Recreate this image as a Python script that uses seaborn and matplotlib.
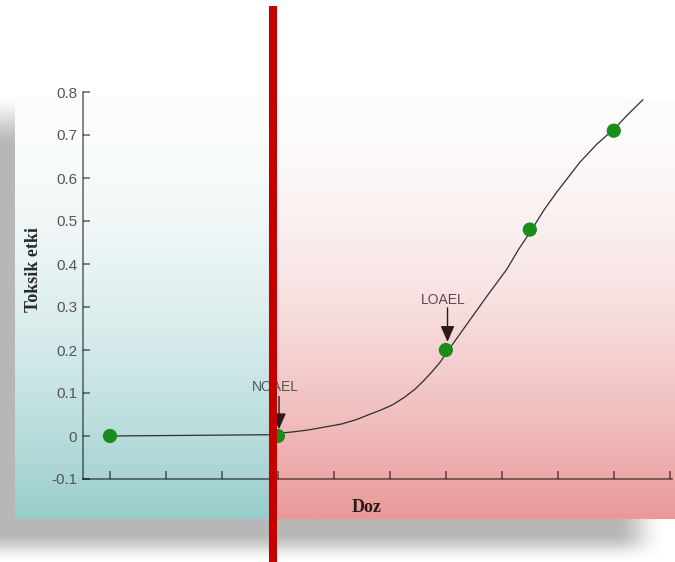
import numpy as np
import pandas as pd
import seaborn as sns
from matplotlib import pyplot as plt

sns.set_theme(style="white")
plt.rcParams["font.family"] = ["Liberation Sans", "DejaVu Sans"]

# measured doses (x) and toxic effect (y)
dose_points = [0, 3, 6, 7.5, 9]
effect_points = [0.0, 0.0, 0.2, 0.48, 0.71]

# dose-response curve
curve_dose = [0, 2.9, 3.07, 3.3, 3.54, 3.8, 4.14, 4.4, 4.61, 4.85, 5.04, 5.25,
              5.45, 5.6, 5.75, 5.9, 6.02, 6.25, 6.48, 6.75, 7.09, 7.3, 7.54,
              7.75, 7.98, 8.2, 8.39, 8.7, 9.02, 9.27, 9.52]
curve_effect = [0.0, 0.003, 0.007, 0.010, 0.014, 0.020, 0.028, 0.038, 0.049,
                0.061, 0.072, 0.089, 0.109, 0.128, 0.149, 0.172, 0.195, 0.237,
                0.279, 0.328, 0.388, 0.434, 0.481, 0.525, 0.567, 0.604, 0.636,
                0.679, 0.716, 0.750, 0.782]

y_ticks = [-0.1, 0, 0.1, 0.2, 0.3, 0.4, 0.5, 0.6, 0.7, 0.8]
y_tick_labels = ["-0.1", "0", "0.1", "0.2", "0.3", "0.4", "0.5", "0.6", "0.7", "0.8"]
x_ticks = list(range(11))

W, H = 675, 562
fig = plt.figure(figsize=(W / 100, H / 100), dpi=100, facecolor="white")


def vertical_gradient(top, bottom, height, power=1.7):
    t = np.linspace(0, 1, height) ** power
    top, bottom = np.array(top) / 255, np.array(bottom) / 255
    col = top[None, :] + (bottom - top)[None, :] * t[:, None]
    return col[:, None, :]


def smooth(v):
    v = np.clip(v, 0, 1)
    return v * v * (3 - 2 * v)


# background: shadow + two gradient panels
bg = fig.add_axes([0, 0, 1, 1], zorder=0)
bg.axis("off")

xx, yy = np.meshgrid(np.arange(W), np.arange(H))
alpha = smooth((665 - xx) / 50) * smooth((yy - 92) / 55) * smooth((562 - yy) / 30)
shadow = np.zeros((H, W, 4))
shadow[..., :3] = 0.72
shadow[..., 3] = alpha
bg.imshow(shadow, extent=(0, W, H, 0), aspect="auto", interpolation="bilinear")

bg.imshow(vertical_gradient((252, 253, 253), (152, 205, 204), 200),
          extent=(15, 273, 519, 100), aspect="auto", interpolation="bilinear")
bg.imshow(vertical_gradient((253, 252, 252), (234, 152, 152), 200),
          extent=(273, W, 519, 100), aspect="auto", interpolation="bilinear")
bg.set_xlim(0, W)
bg.set_ylim(H, 0)

# main chart
ax = fig.add_axes([83 / W, (H - 479) / H, (672 - 83) / W, (479 - 92) / H], zorder=1)
ax.set_facecolor("none")

curve = pd.DataFrame({"dose": curve_dose, "effect": curve_effect})
points = pd.DataFrame({"dose": dose_points, "effect": effect_points})

sns.lineplot(data=curve, x="dose", y="effect", ax=ax, sort=False, estimator=None,
             color="#2e2e2e", linewidth=0.9, zorder=2)
sns.scatterplot(data=points, x="dose", y="effect", ax=ax, color="#198c19",
                s=105, edgecolor="none", zorder=3)

ax.set_xlim(-0.482, 10.04)
ax.set_ylim(-0.1, 0.8)
ax.set_xticks(x_ticks)
ax.set_xticklabels([])
ax.set_yticks(y_ticks)
ax.set_yticklabels(y_tick_labels)
ax.set_xlabel("")
ax.set_ylabel("")

for side in ["top", "right"]:
    ax.spines[side].set_visible(False)
for side in ["left", "bottom"]:
    ax.spines[side].set_color((0, 0, 0, 0.6))
    ax.spines[side].set_linewidth(1.1)

ax.tick_params(axis="x", direction="in", length=6, width=1.1, color=(0, 0, 0, 0.6), bottom=True)
ax.tick_params(axis="y", direction="in", length=5, width=1.1, color=(0, 0, 0, 0.6),
               left=True, labelsize=11, labelcolor="#555555", pad=4.3)

# NOAEL / LOAEL annotations
arrow = dict(arrowstyle="-|>,head_length=0.8,head_width=0.35", color="#2a1a1a",
             lw=1.0, shrinkA=0, shrinkB=0, mutation_scale=12)
ax.text(dose_points[1] - 0.05, 0.105, "NOAEL", ha="center", va="baseline",
        fontsize=10, color="#505858")
ax.annotate("", xy=(dose_points[1] + 0.02, 0.016), xytext=(dose_points[1] + 0.02, 0.092),
            arrowprops=arrow, zorder=4)
ax.text(dose_points[2] - 0.04, 0.307, "LOAEL", ha="center", va="baseline",
        fontsize=10, color="#5a4a4a")
ax.annotate("", xy=(dose_points[2] + 0.03, 0.219), xytext=(dose_points[2] + 0.03, 0.298),
            arrowprops=arrow, zorder=4)

fig.text(33 / W, 1 - 270 / H, "Toksik etki", rotation=90, ha="center", va="center",
         fontsize=13, fontweight="bold", family=["Liberation Serif", "DejaVu Serif"],
         color="#2a2a2a")
fig.text(367 / W, 1 - 507 / H, "Doz", ha="center", va="center",
         fontsize=13, fontweight="bold", family=["Liberation Serif", "DejaVu Serif"],
         color="#2a1a1a")

# red vertical marker on top of everything
top = fig.add_axes([0, 0, 1, 1], zorder=5)
top.set_xlim(0, W)
top.set_ylim(H, 0)
top.axis("off")
top.plot([273, 273], [6, H], color="#c40000", linewidth=5.8, solid_capstyle="butt")

fig.savefig("out.png", dpi=100)
